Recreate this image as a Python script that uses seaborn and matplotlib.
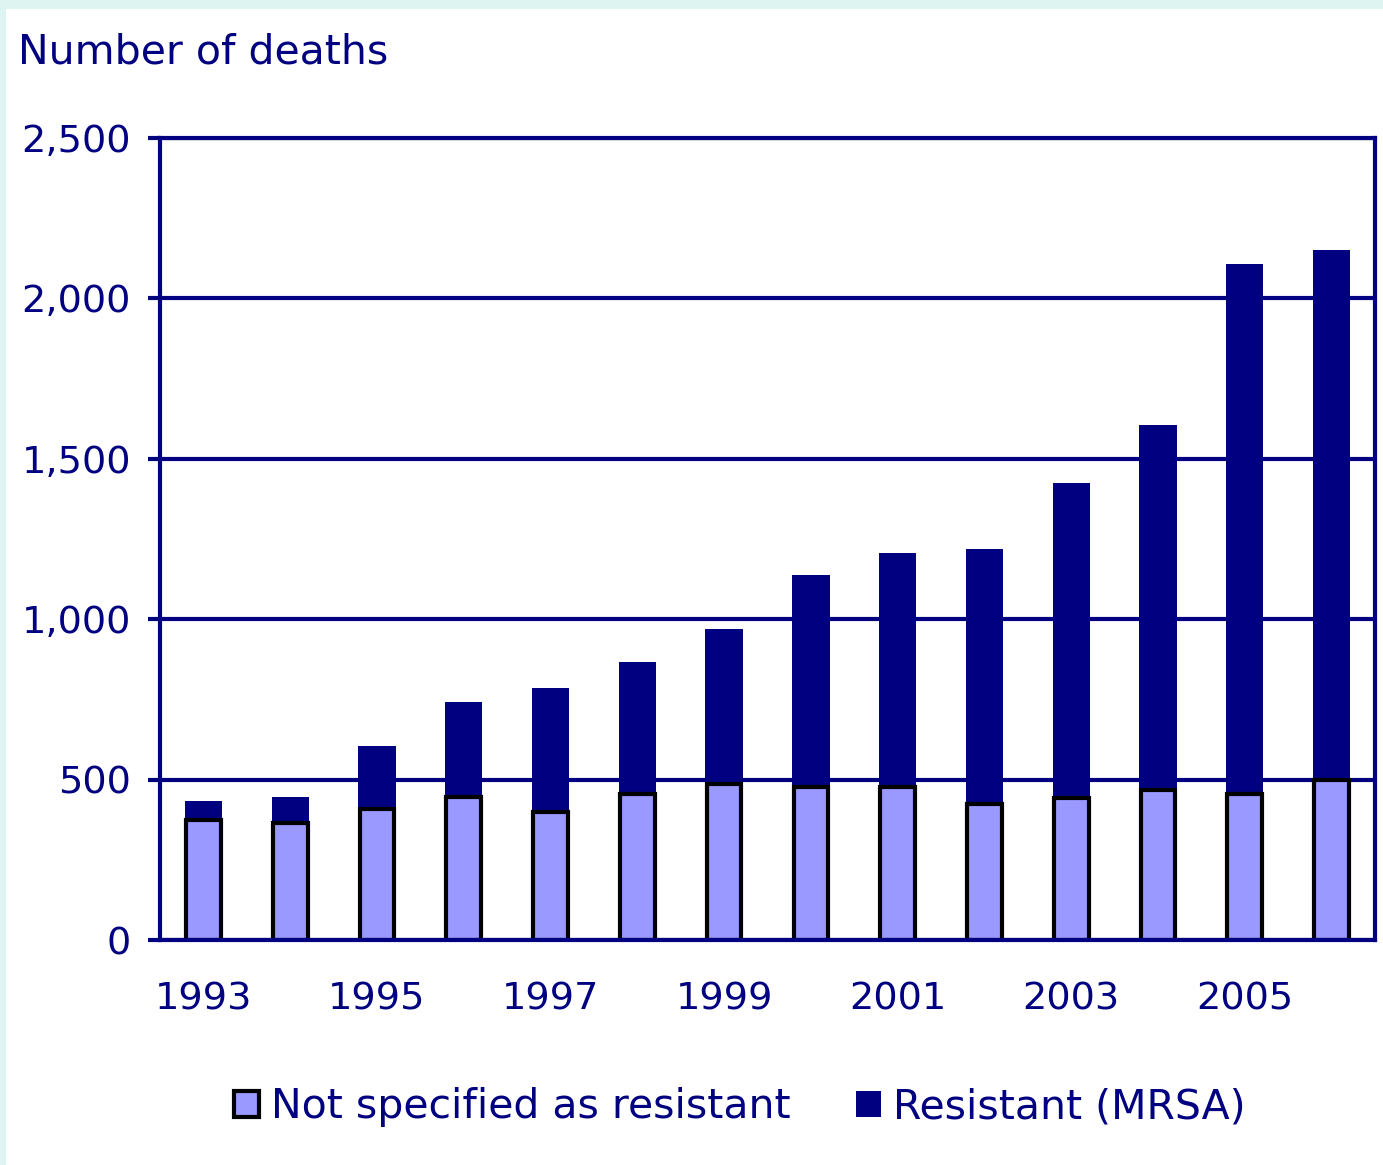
import matplotlib
matplotlib.use("Agg")
import matplotlib.pyplot as plt
import seaborn as sns
import pandas as pd
from matplotlib.patches import Patch, Rectangle

# Data (deaths per year)
years = [1993, 1994, 1995, 1996, 1997, 1998, 1999, 2000, 2001, 2002, 2003, 2004, 2005, 2006]
not_specified = [374, 365, 408, 446, 399, 455, 486, 477, 477, 424, 443, 468, 455, 499]
total_deaths = [433, 446, 605, 742, 785, 867, 969, 1138, 1206, 1219, 1424, 1605, 2107, 2151]
y_ticks = [0, 500, 1000, 1500, 2000, 2500]
y_labels = ["0", "500", "1,000", "1,500", "2,000", "2,500"]

NAVY = "#000080"
LIGHT = "#9999FF"
BORDER = "#DDF4F0"

df = pd.DataFrame({"year": [str(y) for y in years],
                   "not_specified": not_specified,
                   "total": total_deaths})

sns.set_style("white")
plt.rcParams["font.family"] = ["DejaVu Sans"]

fig = plt.figure(figsize=(13.83, 11.65), dpi=100, facecolor=BORDER)
fig.patches.append(Rectangle((6 / 1383, 0), 1, 1 - 9 / 1165, transform=fig.transFigure,
                             facecolor="white", edgecolor="none", zorder=-5))
ax = fig.add_axes([0.1157, 0.193, 0.8785, 0.6885])
ax.set_zorder(2)
ax.set_facecolor("white")

# total bar (dark) first, then the non-resistant part on top of it
sns.barplot(data=df, x="year", y="total", color=NAVY, saturation=1, width=0.43,
            edgecolor="none", ax=ax)
sns.barplot(data=df, x="year", y="not_specified", color=LIGHT, saturation=1, width=0.40,
            edgecolor="black", linewidth=3, ax=ax)

ax.set_xlim(-0.5, len(years) - 0.5)
ax.set_ylim(0, 2500)
ax.set_yticks(y_ticks)
ax.set_yticklabels(y_labels)
ax.set_xticks(range(0, len(years), 2))
ax.set_xticklabels([str(y) for y in years[::2]])
ax.set_xlabel("")
ax.set_ylabel("")

ax.set_axisbelow(True)
ax.yaxis.grid(True, color=NAVY, linewidth=3)
for s in ax.spines.values():
    s.set_color(NAVY)
    s.set_linewidth(3)

ax.tick_params(axis="y", colors=NAVY, labelcolor=NAVY, labelsize=27.5, length=9, width=3,
               direction="out", left=True, pad=12)
ax.tick_params(axis="x", colors=NAVY, labelcolor=NAVY, labelsize=27.5, length=0, pad=30)

fig.text(18 / 1383, 1 - 52 / 1165, "Number of deaths", color=NAVY, fontsize=29.5,
         va="center", ha="left")

handles = [Patch(facecolor=LIGHT, edgecolor="black", linewidth=3, label="Not specified as resistant"),
           Patch(facecolor=NAVY, edgecolor="none", label="Resistant (MRSA)")]
fig.legend(handles=handles, loc="center", bbox_to_anchor=(0.535, 1 - 1107 / 1165), ncol=2,
           frameon=False, fontsize=29.5, labelcolor=NAVY, handlelength=0.6, handleheight=0.6,
           handletextpad=0.3, columnspacing=1.6)

fig.savefig("out.png", dpi=100, facecolor=BORDER)
